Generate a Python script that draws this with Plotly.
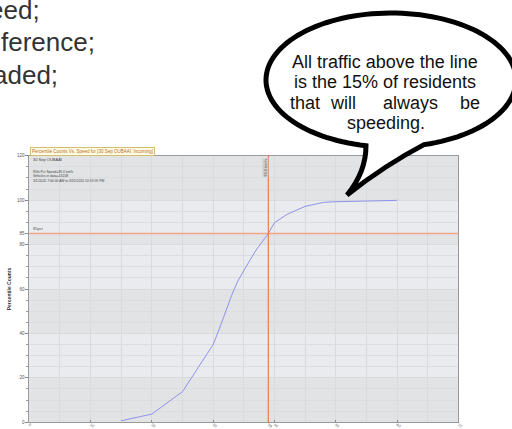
import numpy as np
import plotly.graph_objects as go

# ---------------- data ----------------
speed = [15, 20, 25, 27, 30, 31, 32, 33, 34, 35, 36, 37, 38, 39, 40, 42, 45, 48, 50, 55, 60]
pct_counts = [0.7, 3.7, 13.8, 22.5, 35.0, 42.0, 49.5, 57.0, 63.5, 68.5, 73.0, 77.5, 81.5,
              85.0, 89.8, 93.5, 97.2, 99.0, 99.3, 99.6, 99.9]
x_tick_vals = [0, 10, 20, 30, 39, 40, 50, 60, 70]
y_tick_vals = [0, 20, 40, 60, 80, 85, 100, 120]
p85_speed = 39
p85_level = 85
chart_title = "Percentile Counts Vs. Speed for [30 Sep OUBAAI: Incoming]"
site_name = "30 Sep OUBAAI"
info_lines = ["85th Pct Speed=39.0 km/h", "Vehicles in data=13208",
              "3/1/2020 7:00:00 AM to 3/31/2020 10:59:59 PM"]
side_text = ["eed;", "ference;", "aded;"]
bubble_lines = ["All traffic above the line", "is the 15% of residents"]
bubble_justified = ["that", "will", "always", "be"]
bubble_last = "speeding."

W, H = 512, 429


def px(x):
    return x / W


def py(y):
    return 1 - y / H


# plot area in pixels
L, R, T, B = 29.3, 458.3, 155.7, 422.3

fig = go.Figure()
fig.add_trace(go.Scatter(x=speed, y=pct_counts, mode="lines",
                         line=dict(color="rgb(145,145,235)", width=1),
                         hoverinfo="skip", showlegend=False))

shapes = []
# alternating background bands between y ticks
band_cols = ["#e2e3e5", "#e9ebee"]
for i in range(len(y_tick_vals) - 1):
    shapes.append(dict(type="rect", xref="x domain", yref="y", x0=0, x1=1,
                       y0=y_tick_vals[i], y1=y_tick_vals[i + 1],
                       fillcolor=band_cols[i % 2], line=dict(width=0), layer="below"))
# 85th percentile lines
shapes.append(dict(type="line", xref="x domain", yref="y", x0=0, x1=1,
                   y0=p85_level, y1=p85_level, line=dict(color="#f3a587", width=1.5)))
shapes.append(dict(type="line", xref="x", yref="y domain", x0=p85_speed, x1=p85_speed,
                   y0=0, y1=1, line=dict(color="#f07a55", width=1.2)))

# speech bubble
cx, cy, rx, ry = 391, 80, 125, 67
bl, br = 366, 424
tl = np.arccos((bl - cx) / rx)
tr = np.arccos((br - cx) / rx)
ts = np.linspace(tr, tl - 2 * np.pi, 120)
pts = [(cx + rx * np.cos(t), cy + ry * np.sin(t)) for t in ts]
path = "M {:.4f},{:.4f} ".format(px(pts[0][0]), py(pts[0][1]))
for (a, b) in pts[1:]:
    path += "L {:.4f},{:.4f} ".format(px(a), py(b))
tip = (347, 195)
path += "Q {:.4f},{:.4f} {:.4f},{:.4f} ".format(px(366), py(172), px(tip[0]), py(tip[1]))
path += "Q {:.4f},{:.4f} {:.4f},{:.4f} Z".format(px(385), py(165), px(pts[0][0]), py(pts[0][1]))
shapes.append(dict(type="path", xref="paper", yref="paper", path=path,
                   fillcolor="white", line=dict(color="black", width=5), layer="above"))

ann = []
# left document text
for txt, xr, yc in zip(side_text, [42, 97, 60], [10, 42, 75]):
    ann.append(dict(text=txt, xref="paper", yref="paper", x=px(xr), y=py(yc),
                    xanchor="right", yanchor="middle", showarrow=False,
                    font=dict(family="Liberation Sans, Arial", size=26, color="#333333")))
# bubble text
bfont = dict(family="Liberation Sans, Arial", size=18, color="#111111")
for i, txt in enumerate(bubble_lines):
    ann.append(dict(text=txt, xref="paper", yref="paper", x=px(385), y=py(62 + 20.5 * i),
                    xanchor="center", yanchor="middle", showarrow=False, font=bfont))
for w, xw, anc in zip(bubble_justified, [288, 343, 410, 482],
                      ["left", "center", "center", "right"]):
    ann.append(dict(text=w, xref="paper", yref="paper", x=px(xw), y=py(103),
                    xanchor=anc, yanchor="middle", showarrow=False, font=bfont))
ann.append(dict(text=bubble_last, xref="paper", yref="paper", x=px(386), y=py(123.5),
                xanchor="center", yanchor="middle", showarrow=False, font=bfont))

# chart title box
ann.append(dict(text=chart_title, xref="paper", yref="paper", x=px(30), y=py(155.7),
                xanchor="left", yanchor="bottom", showarrow=False,
                bgcolor="#fdfde6", bordercolor="#d6bd74", borderwidth=1, borderpad=1,
                font=dict(family="Liberation Sans, Arial", size=4.5, color="#c06a1a")))
# info text
small = dict(family="Liberation Sans, Arial", size=4, color="#444444")
ann.append(dict(text=site_name, xref="paper", yref="paper", x=px(31), y=py(159),
                xanchor="left", yanchor="middle", showarrow=False, font=small))
ann.append(dict(text="<br>".join(info_lines), xref="paper", yref="paper", x=px(31), y=py(167.5),
                xanchor="left", yanchor="top", align="left", showarrow=False,
                font=dict(family="Liberation Sans, Arial", size=3.4, color="#444444")))
# 85pct label
ann.append(dict(text="85pct", xref="paper", yref="y", x=px(31), y=p85_level,
                xanchor="left", yanchor="bottom", showarrow=False,
                font=dict(family="Liberation Sans, Arial", size=4, color="#555555")))
# rotated label at 85th speed
ann.append(dict(text="39.0 km/h", xref="x", yref="paper", x=p85_speed, y=py(168),
                xanchor="right", yanchor="middle", textangle=-90, showarrow=False,
                bgcolor="#cfd0d3", borderpad=0,
                font=dict(family="Liberation Sans, Arial", size=4, color="#555555")))

axis_font = dict(family="Liberation Sans, Arial", size=4.5, color="#555555")
fig.update_layout(
    width=W, height=H, autosize=False,
    margin=dict(l=0, r=0, t=0, b=0, pad=0),
    paper_bgcolor="white", plot_bgcolor="#e6e7ea",
    shapes=shapes, annotations=ann,
    xaxis=dict(domain=[px(L), px(R)], range=[0, 70], tickmode="array", tickvals=x_tick_vals,
               ticks="inside", ticklen=2, tickcolor="#888888", ticklabelstandoff=-2,
               tickfont=dict(family="Liberation Sans, Arial", size=3.8, color="#555555"),
               showgrid=True, gridcolor="#d9dadd", gridwidth=1, zeroline=False,
               showline=True, linecolor="#999999", linewidth=1, mirror=True,
               automargin=False,
               minor=dict(dtick=5, showgrid=True, gridcolor="#d9dadd", ticks="")),
    yaxis=dict(domain=[py(B), py(T)], range=[0, 120], tickmode="array", tickvals=y_tick_vals,
               ticks="outside", ticklen=3, tickcolor="#888888", tickfont=axis_font,
               showgrid=True, gridcolor="#d9dadd", gridwidth=1, zeroline=False,
               showline=True, linecolor="#999999", linewidth=1, mirror=True,
               automargin=False,
               title=dict(text="<b>Percentile Counts</b>", standoff=5,
                          font=dict(family="Liberation Sans, Arial", size=5, color="#333333")),
               minor=dict(dtick=5, showgrid=True, gridcolor="#dcdde0", ticks="outside",
                          ticklen=2, tickcolor="#999999")),
)

fig.write_html("out.html",
               config={"displayModeBar": False},
               post_script="document.body.style.margin='0px';"
                           "document.body.style.padding='0px';"
                           "document.documentElement.style.overflow='hidden';")
